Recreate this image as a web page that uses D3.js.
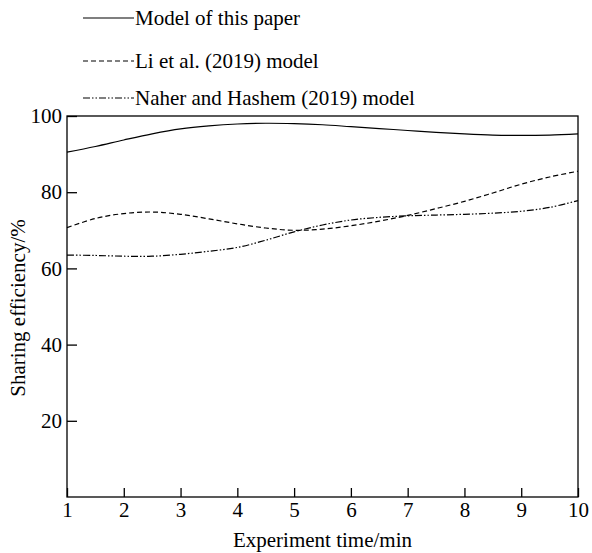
<!DOCTYPE html>
<html>
<head>
<meta charset="utf-8">
<script src="https://cdn.jsdelivr.net/npm/d3@7"></script>
<style>
  body { margin: 0; background: #fff; }
  text { font-family: "Liberation Serif", "Times New Roman", serif; fill: #000; }
  .axis path, .axis line { stroke: #000; stroke-width: 1.3; }
</style>
</head>
<body>
<svg id="chart"></svg>
<script>
// experiment time (min), sampled every half minute
const times = [1, 1.5, 2, 2.5, 3, 3.5, 4, 4.5, 5, 5.5, 6, 6.5, 7, 7.5, 8, 8.5, 9, 9.5, 10];
const thisPaper = [90.5, 92.0, 93.7, 95.3, 96.6, 97.4, 97.9, 98.1, 98.0, 97.7, 97.2, 96.7, 96.2, 95.7, 95.3, 95.0, 94.9, 95.0, 95.3];
const liModel = [70.7, 73.1, 74.4, 74.8, 74.2, 73.0, 71.7, 70.6, 70.0, 70.3, 71.2, 72.4, 73.9, 75.7, 77.6, 79.8, 82.1, 84.0, 85.5];
const naherModel = [63.5, 63.4, 63.2, 63.2, 63.7, 64.5, 65.5, 67.4, 69.6, 71.4, 72.7, 73.4, 73.8, 74.0, 74.2, 74.5, 75.0, 76.0, 77.8];
const xTicks = [1, 2, 3, 4, 5, 6, 7, 8, 9, 10];
const yTicks = [20, 40, 60, 80, 100];
const seriesNames = ["Model of this paper", "Li et al. (2019) model", "Naher and Hashem (2019) model"];

const width = 592, height = 553;
const margin = { top: 116, right: 14, bottom: 56, left: 67 };
const innerW = width - margin.left - margin.right;
const innerH = height - margin.top - margin.bottom;
const fontSize = 21;

const dashes = [null, "5,3", "7,2,1.5,2,1.5,2"];
const series = [thisPaper, liModel, naherModel];

const svg = d3.select("#chart").attr("width", width).attr("height", height);
const chart = svg.append("g").attr("transform", `translate(${margin.left},${margin.top})`);

const x = d3.scaleLinear().domain([1, 10]).range([0, innerW]);
const y = d3.scaleLinear().domain([0, 100]).range([innerH, 0]);

// frame
chart.append("rect")
  .attr("width", innerW).attr("height", innerH)
  .attr("fill", "none").attr("stroke", "#000").attr("stroke-width", 1.3);

// axes with inward ticks
chart.append("g")
  .attr("class", "axis")
  .attr("transform", `translate(0,${innerH})`)
  .call(d3.axisBottom(x).tickValues(xTicks).tickSize(-9).tickSizeOuter(0).tickPadding(5))
  .call(g => g.select(".domain").remove())
  .call(g => g.selectAll(".tick text")
    .attr("font-family", "Liberation Serif, serif").attr("font-size", fontSize));

chart.append("g")
  .attr("class", "axis")
  .call(d3.axisLeft(y).tickValues(yTicks).tickSize(-10).tickSizeOuter(0).tickPadding(5))
  .call(g => g.select(".domain").remove())
  .call(g => g.selectAll(".tick text")
    .attr("font-family", "Liberation Serif, serif").attr("font-size", fontSize));

// lines
const line = d3.line()
  .x((d, i) => x(times[i]))
  .y(d => y(d))
  .curve(d3.curveCatmullRom.alpha(0.5));

series.forEach((s, i) => {
  chart.append("path")
    .datum(s)
    .attr("d", line)
    .attr("fill", "none")
    .attr("stroke", "#000")
    .attr("stroke-width", 1.2)
    .attr("stroke-dasharray", dashes[i]);
});

// legend
const legendY = [18, 61, 98];
const legend = svg.append("g");
seriesNames.forEach((name, i) => {
  legend.append("line")
    .attr("x1", 83).attr("x2", 134)
    .attr("y1", legendY[i]).attr("y2", legendY[i])
    .attr("stroke", "#000").attr("stroke-width", 1.2)
    .attr("stroke-dasharray", dashes[i]);
  legend.append("text")
    .attr("x", 135).attr("y", legendY[i] + 7)
    .attr("font-size", fontSize)
    .text(name);
});

// axis titles
svg.append("text")
  .attr("text-anchor", "middle")
  .attr("x", margin.left + innerW / 2)
  .attr("y", 547)
  .attr("font-size", fontSize)
  .text("Experiment time/min");

svg.append("text")
  .attr("text-anchor", "middle")
  .attr("transform", `translate(25,308) rotate(-90)`)
  .attr("font-size", fontSize)
  .text("Sharing efficiency/%");
</script>
</body>
</html>
